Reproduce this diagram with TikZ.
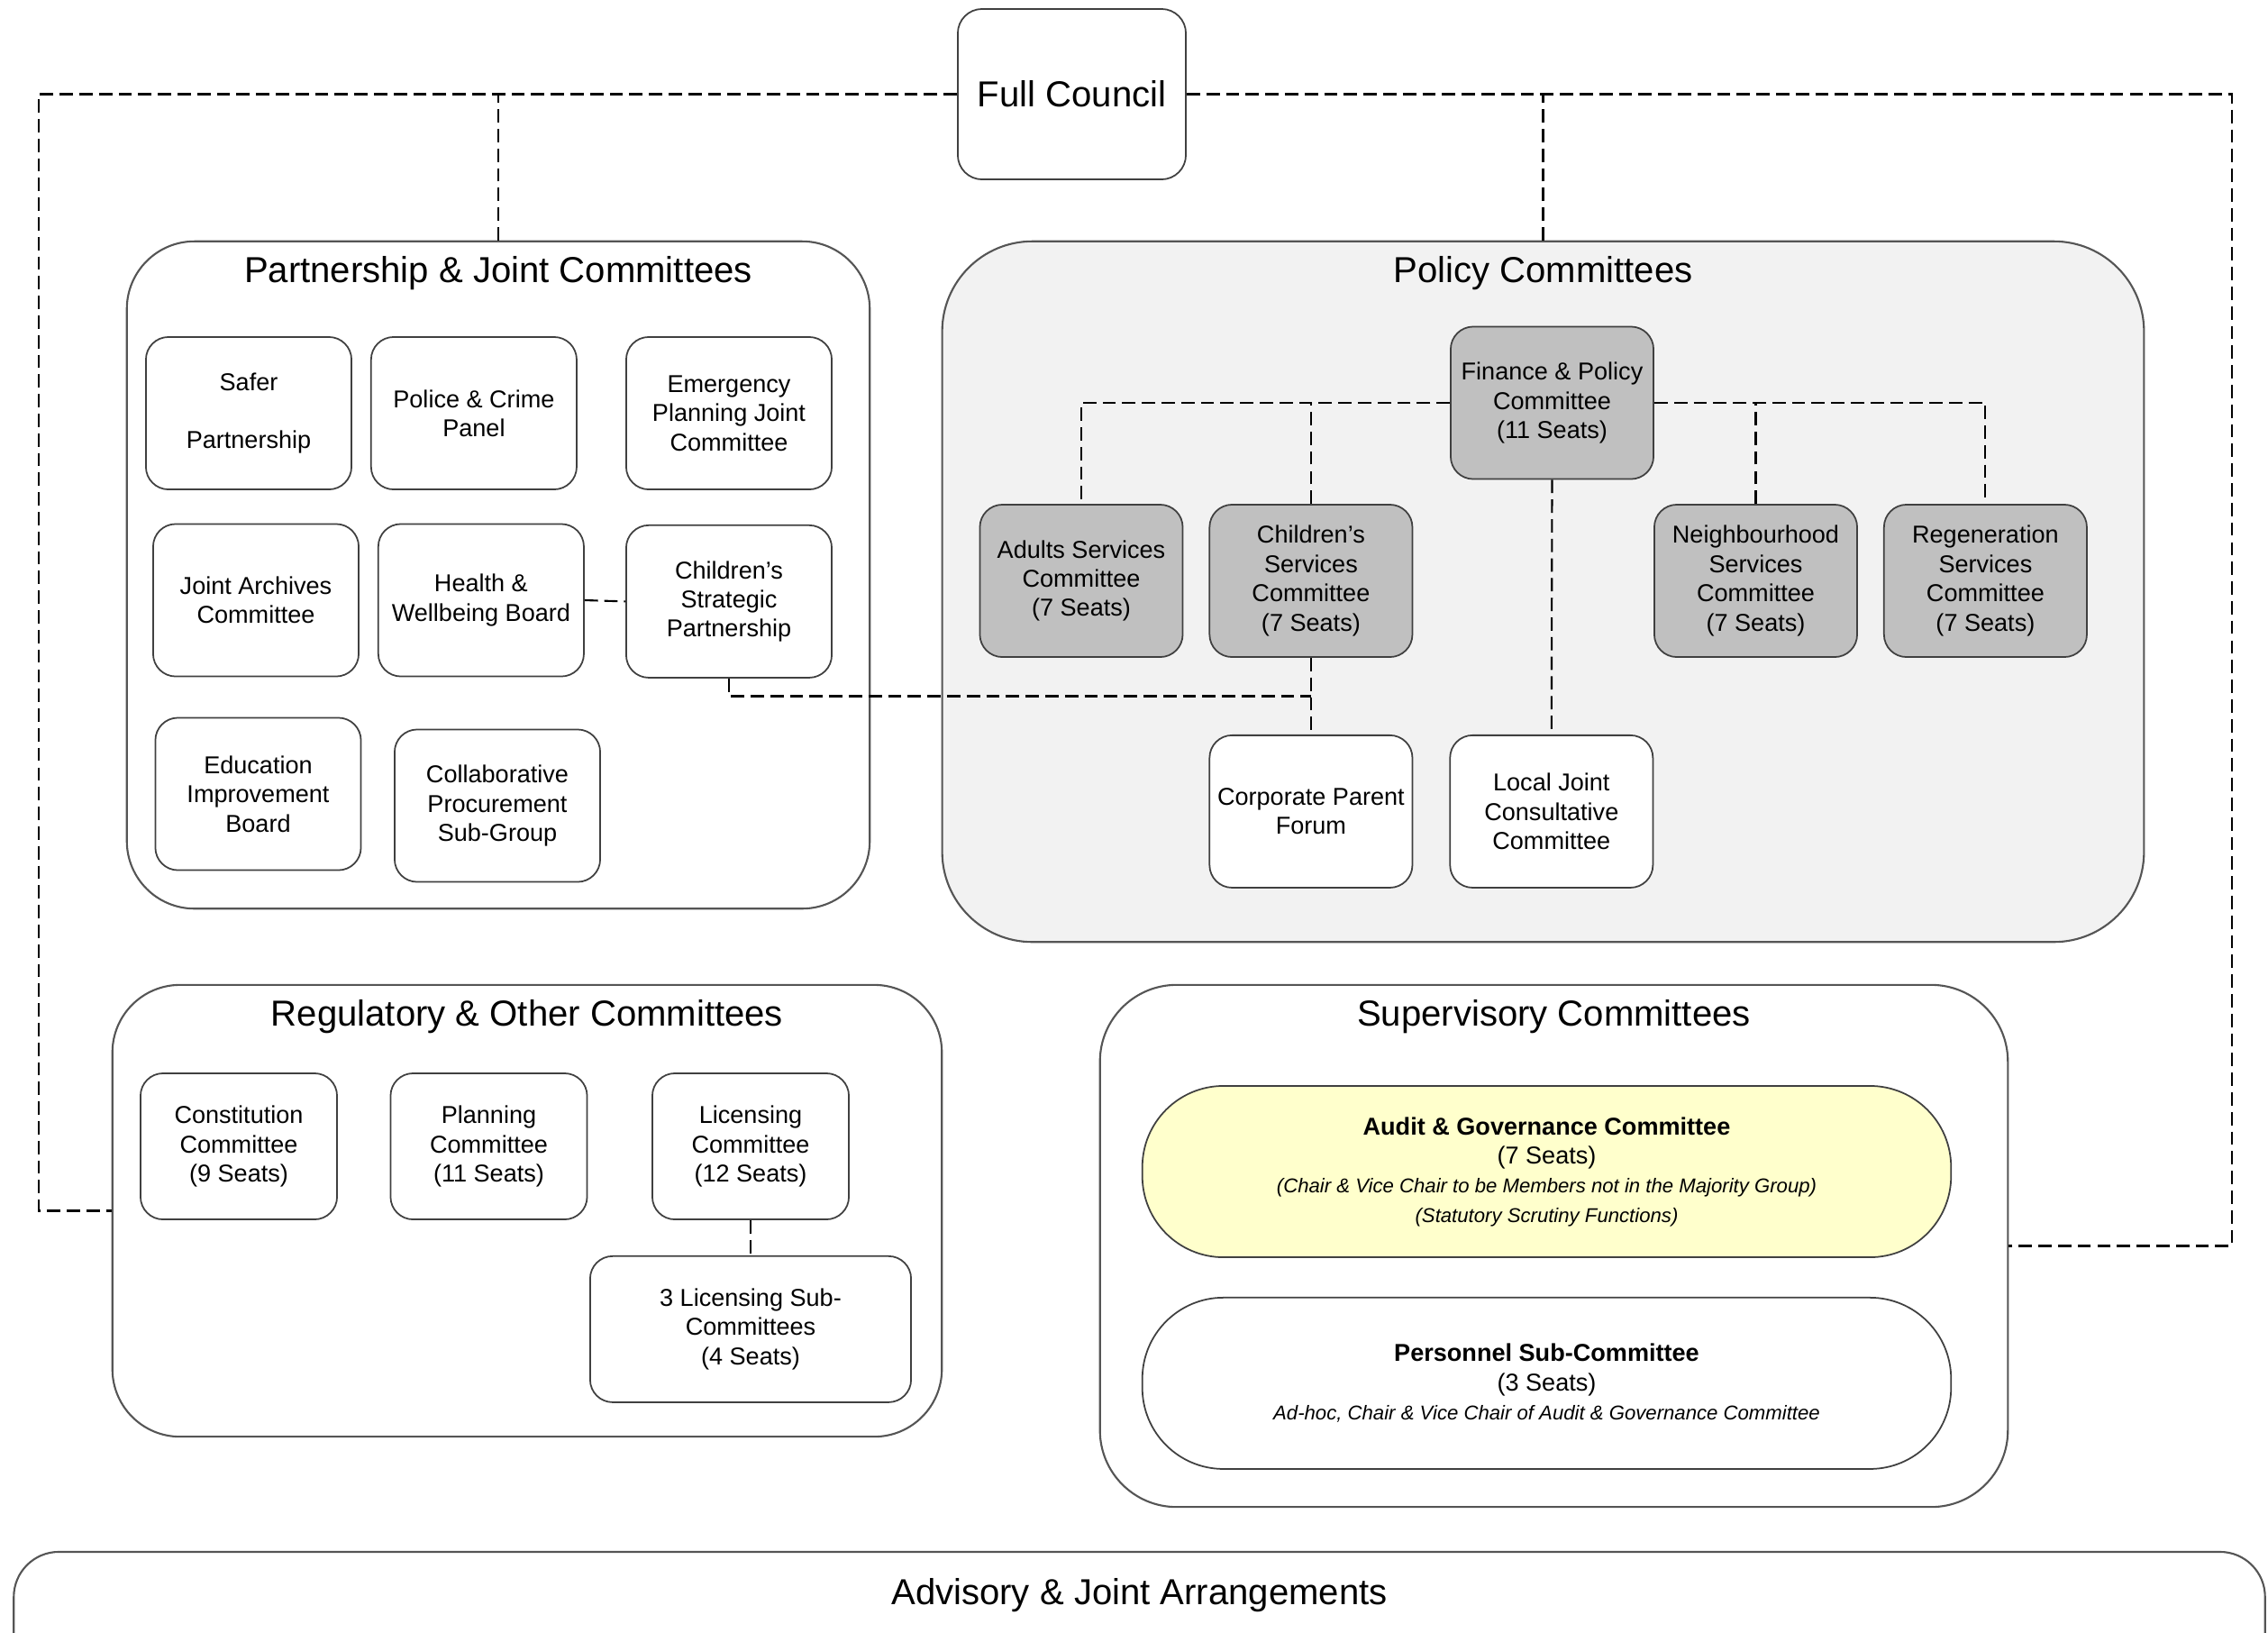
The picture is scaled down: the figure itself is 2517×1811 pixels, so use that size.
\documentclass[tikz,border=0pt]{standalone}
\usepackage{fontspec}
\setmainfont{Liberation Sans}
\usetikzlibrary{positioning,calc}

\definecolor{policybg}{HTML}{F2F2F2}
\definecolor{seatgray}{HTML}{C0C0C0}
\definecolor{auditbg}{HTML}{FFFFCC}
\definecolor{framegray}{HTML}{555555}
\definecolor{boxline}{HTML}{404040}

\newcommand{\boxfont}{\fontsize{7.7}{9.2}\selectfont}
\newcommand{\titlefont}{\fontsize{11.4}{13.7}\selectfont}
\newcommand{\notefont}{\fontsize{6.3}{8}\selectfont\itshape}

\begin{document}
\begin{tikzpicture}[
  x=0.01cm, y=-0.01cm,
  group/.style={draw=framegray, line width=0.6pt, rounded corners=0.75cm},
  grouptitle/.style={font=\titlefont, inner sep=0pt},
  box/.style={draw=boxline, line width=0.5pt, rounded corners=0.25cm, align=center, minimum width=2.28cm, minimum height=1.69cm, inner sep=1pt, font=\boxfont},
  polbox/.style={box, minimum width=2.25cm},
  regbox/.style={box, minimum width=2.18cm, minimum height=1.62cm},
  pill/.style={draw=boxline, line width=0.5pt, rounded corners=0.9cm, align=center, minimum width=8.97cm, minimum height=1.9cm, font=\boxfont},
  link/.style={line width=0.6pt, dash pattern=on 4.2pt off 2pt}
]
\useasboundingbox (0,0) rectangle (2517,1811);

% Full Council
\node[draw=boxline, line width=0.5pt, rounded corners=0.27cm, minimum width=2.53cm, minimum height=1.89cm, font=\titlefont] (council) at (1189.5,104.5) {Full Council};

% Partnership & Joint Committees
\node[group, minimum width=8.24cm, minimum height=7.40cm] (part) at (553,638) {};
\node[grouptitle, below=0.17cm of part.north] (parttitle) {Partnership \& Joint Committees};

% Policy Committees
\node[group, fill=policybg, rounded corners=1cm, minimum width=13.33cm, minimum height=7.77cm] (policy) at (1712.5,656.5) {};
\node[grouptitle, below=0.17cm of policy.north] (policytitle) {Policy Committees};

% Regulatory & Other Committees
\node[group, minimum width=9.20cm, minimum height=5.01cm] (reg) at (585,1343.5) {};
\node[grouptitle, below=0.17cm of reg.north] (regtitle) {Regulatory \& Other Committees};

% Supervisory Committees
\node[group, rounded corners=0.85cm, minimum width=10.07cm, minimum height=5.79cm] (sup) at (1724.5,1382.5) {};
\node[grouptitle, below=0.17cm of sup.north] (suptitle) {Supervisory Committees};

% Advisory & Joint Arrangements
\node[group, rounded corners=0.5cm, minimum width=24.97cm, minimum height=2.0cm] (adv) at (1264.5,1822) {};
\node[grouptitle, below=0.3cm of adv.north] (advtitle) {Advisory \& Joint Arrangements};

% partnership boxes
\node[box] (safer) at (276,458.5) {Safer\\[9.2pt]Partnership};
\node[box, right=0.2cm of safer] (police) {Police \& Crime\\Panel};
\node[box] (emerg) at (809,458.5) {Emergency\\Planning Joint\\Committee};
\node[box] (archives) at (284,666) {Joint Archives\\Committee};
\node[box, right=0.2cm of archives] (health) {Health \&\\Wellbeing Board};
\node[box, below=0.38cm of emerg] (csp) {Children’s\\Strategic\\Partnership};
\node[box] (edu) at (286.5,881) {Education\\Improvement\\Board};
\node[box] (collab) at (552,894) {Collaborative\\Procurement\\Sub-Group};

% policy boxes
\node[polbox, fill=seatgray] (fin) at (1722.5,447) {Finance \& Policy\\Committee\\(11 Seats)};
\node[polbox, fill=seatgray] (adults) at (1200,644.5) {Adults Services\\Committee\\(7 Seats)};
\node[polbox, fill=seatgray, right=0.28cm of adults] (csc) {Children’s\\Services\\Committee\\(7 Seats)};
\node[polbox, fill=seatgray] (neigh) at (1948.5,644.5) {Neighbourhood\\Services\\Committee\\(7 Seats)};
\node[polbox, fill=seatgray, right=0.28cm of neigh] (regen) {Regeneration\\Services\\Committee\\(7 Seats)};
\node[polbox, fill=white, below=0.85cm of csc] (corp) {Corporate Parent\\Forum};
\node[polbox, fill=white, right=0.4cm of corp] (ljcc) {Local Joint\\Consultative\\Committee};

% regulatory boxes
\node[regbox] (const) at (265,1272) {Constitution\\Committee\\(9 Seats)};
\node[regbox] (plan) at (542.5,1272) {Planning\\Committee\\(11 Seats)};
\node[regbox] (lic) at (833,1272) {Licensing\\Committee\\(12 Seats)};
\node[regbox, minimum width=3.56cm, below=0.39cm of lic] (licsub) {3 Licensing Sub-\\Committees\\(4 Seats)};

% supervisory boxes
\node[pill, fill=auditbg] (audit) at (1716.5,1300) {\textbf{Audit \& Governance Committee}\\(7 Seats)\\{\notefont (Chair \& Vice Chair to be Members not in the Majority Group)}\\{\notefont (Statutory Scrutiny Functions)}};
\node[pill, below=0.43cm of audit] (pers) {\textbf{Personnel Sub-Committee}\\(3 Seats)\\{\notefont Ad-hoc, Chair \& Vice Chair of Audit \& Governance Committee}};

% links from Full Council
\coordinate (lt) at (43,104.5);
\coordinate (rt) at (2477,104.5);
\draw[link] (council.west) -- (lt) |- (reg.west);
\draw[link] (council.east) -- (rt) |- (sup.east);
\draw[link] (part.north) -- (part.north |- lt);
\draw[link] (policy.north) -- (policy.north |- rt);

% policy links
\draw[link] (fin.west) -| (adults.north);
\draw[link] (fin.east) -| (regen.north);
\draw[link] (csc.north) -- (csc.north |- fin.west);
\draw[link] (neigh.north) -- (neigh.north |- fin.east);
\draw[link] (fin.south) -- (ljcc.north);
\draw[link] (csc.south) -- (corp.north);
\draw[link] (csp.south) |- ($(csc.south)!0.5!(corp.north)$);
\draw[link] (health.east) -- (csp.west);

% licensing link
\draw[link] (lic.south) -- (licsub.north);

\end{tikzpicture}
\end{document}
